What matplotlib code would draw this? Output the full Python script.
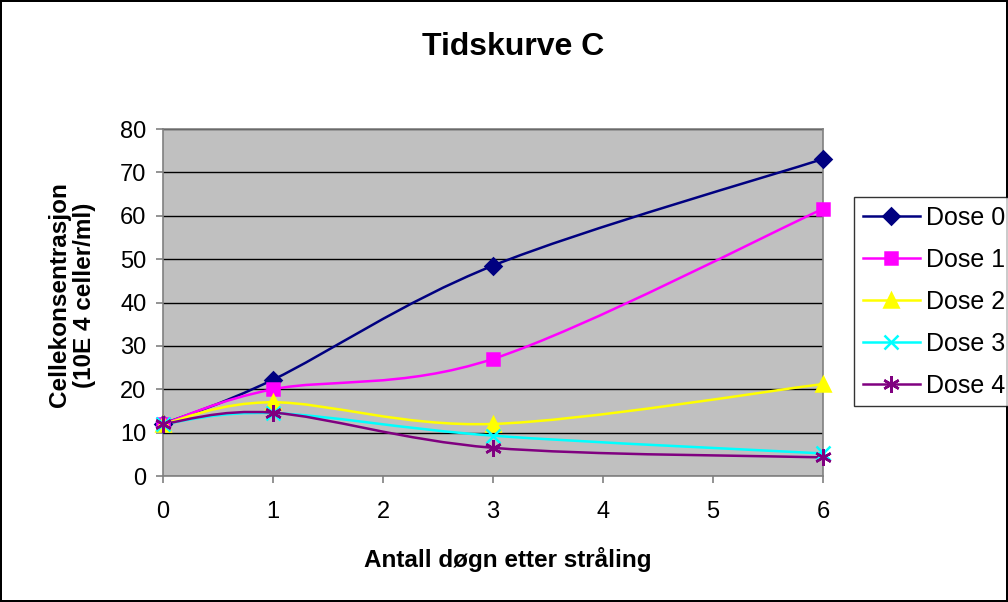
import numpy as np
import matplotlib
matplotlib.use("Agg")
import matplotlib.pyplot as plt
from matplotlib.path import Path
from matplotlib.patches import PathPatch
from matplotlib.lines import Line2D

plt.rcParams['font.family'] = ['Liberation Sans', 'DejaVu Sans']

#%% Data
days = [0, 1, 3, 6]
dose0 = [12, 22.2, 48.5, 73.1]
dose1 = [12, 20, 27, 61.6]
dose2 = [12, 17, 12, 21.2]
dose3 = [12, 14.5, 9.3, 5.2]
dose4 = [12, 14.6, 6.5, 4.3]
labels = ["Dose 0", "Dose 1", "Dose 2", "Dose 3", "Dose 4"]

series = [dose0, dose1, dose2, dose3, dose4]
colors = ["#000080", "#FF00FF", "#FFFF00", "#00FFFF", "#800080"]
markers = ["D", "s", "^", "x", (6, 2, 0)]
msizes = [8, 8, 10, 10, 12]


def smooth_path(x, y):
    # Excel-style smoothed line: cubic bezier segments
    pts = np.column_stack([x, y]).astype(float)
    n = len(pts)
    verts = [pts[0]]
    codes = [Path.MOVETO]
    for i in range(n - 1):
        p0 = pts[max(i - 1, 0)]
        p1 = pts[i]
        p2 = pts[i + 1]
        p3 = pts[min(i + 2, n - 1)]
        c1 = p1 + (p2 - p0) / 6.0
        c2 = p2 - (p3 - p1) / 6.0
        verts += [c1, c2, p2]
        codes += [Path.CURVE4] * 3
    return Path(verts, codes)


#%% Figure
fig = plt.figure(figsize=(10.08, 6.02), dpi=100)
fig.patch.set_edgecolor("black")
fig.patch.set_linewidth(1.5)
ax = fig.add_axes([0.1617, 0.2093, 0.6548, 0.5764])
ax.set_facecolor("#C0C0C0")

for ys, c, m, ms in zip(series, colors, markers, msizes):
    ax.add_patch(PathPatch(smooth_path(days, ys), facecolor="none",
                           edgecolor=c, lw=1.8, zorder=3))
    ax.plot(days, ys, linestyle="none", marker=m, color=c, ms=ms,
            mew=1.8, zorder=4, clip_on=False)

ax.set_xlim(0, 6)
ax.set_ylim(0, 80)
ax.set_xticks(range(7))
ax.set_yticks(range(0, 81, 10))
ax.yaxis.grid(True, color="black", lw=1)
ax.set_axisbelow(True)
for s in ax.spines.values():
    s.set_color("#808080")
    s.set_linewidth(1.2)
ax.tick_params(labelsize=17, length=5, color="#808080", width=1.2, pad=7)
ax.tick_params(axis="x", pad=13)

fig.text(0.509, 0.922, "Tidskurve C", fontsize=23, fontweight="bold",
         ha="center", va="center")
fig.text(0.504, 0.070, "Antall døgn etter stråling", fontsize=17.5,
         fontweight="bold", ha="center", va="center")
fig.text(0.0714, 0.51, "Cellekonsentrasjon\n(10E 4 celler/ml)", fontsize=17.5,
         fontweight="bold", ha="center", va="center", rotation=90,
         linespacing=1.15)

handles = [Line2D([], [], color=c, marker=m, ms=ms, mew=1.8, lw=1.8)
           for c, m, ms in zip(colors, markers, msizes)]
leg = fig.legend(handles, labels, loc="upper left",
                 bbox_to_anchor=(0.847, 0.673), fontsize=18, frameon=True,
                 fancybox=False, edgecolor="black", borderpad=0.35,
                 labelspacing=0.72, handlelength=2.3, handletextpad=0.25,
                 borderaxespad=0)
leg.get_frame().set_linewidth(1.0)

fig.savefig("out.png", dpi=100, edgecolor=fig.get_edgecolor())
